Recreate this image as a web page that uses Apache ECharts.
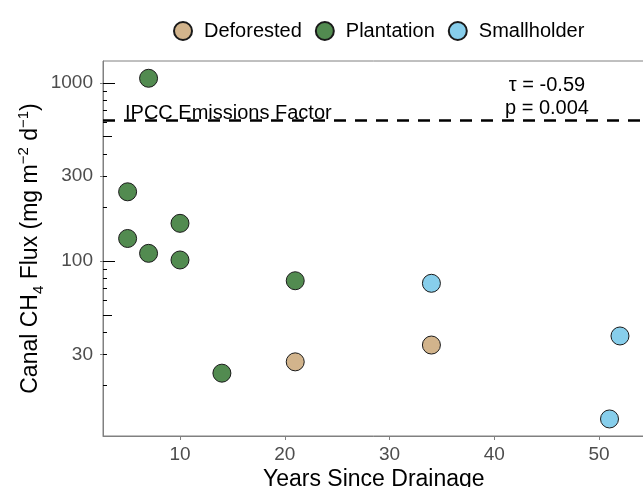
<!DOCTYPE html>
<html lang="en">
<head>
    <meta charset="UTF-8">
    <title>Canal CH4 flux</title>
    <script src="https://cdn.jsdelivr.net/npm/echarts@6/dist/echarts.min.js"></script>
    <style>
        html, body { margin: 0; padding: 0; background: #fff; }
    </style>
</head>
<body>
<div id="main" style="width: 643px;height:487px;"></div>
<script type="text/javascript">
    // values
    var categories = ['Deforested', 'Plantation', 'Smallholder'];
    var colors = ['#d2b48c', '#528b50', '#87ceeb'];

    var deforestedYears = [21, 34];
    var deforestedFlux = [27.2, 33.8];
    var plantationYears = [5, 5, 7, 7, 10, 10, 14, 21];
    var plantationFlux = [245, 134, 1063, 110.6, 163, 101.5, 23.5, 77.6];
    var smallholderYears = [34, 51, 52];
    var smallholderFlux = [75.1, 13.0, 38.0];

    var ipccFactor = 619;
    var xTicks = [10, 20, 30, 40, 50];
    var yTicks = [30, 100, 300, 1000];
    // log ticks drawn inside the panel
    var logLong = [100, 1000];
    var logMid = [50, 500];
    var logShort = [20, 30, 40, 60, 70, 80, 90, 200, 300, 400, 600, 700, 800, 900];

    var FONT = 'Liberation Sans';
    var yMin = 10.43, yMax = 1329;

    function pairs(xs, ys) {
        return xs.map(function (x, i) { return [x, ys[i]]; });
    }

    function logTickAxis(values, len) {
        return {
            type: 'log',
            logBase: 10,
            position: 'left',
            min: yMin,
            max: yMax,
            axisLine: {show: false},
            splitLine: {show: false},
            axisLabel: {show: false},
            axisTick: {
                show: true,
                inside: true,
                length: len,
                customValues: values,
                lineStyle: {color: '#000', width: 1}
            }
        };
    }

    var myChart = echarts.init(document.getElementById('main'));

    var seriesData = [
        pairs(deforestedYears, deforestedFlux),
        pairs(plantationYears, plantationFlux),
        pairs(smallholderYears, smallholderFlux)
    ];

    var series = categories.map(function (name, i) {
        return {
            name: name,
            type: 'scatter',
            symbol: 'circle',
            symbolSize: 18,
            data: seriesData[i],
            itemStyle: {color: colors[i], borderColor: '#1a1a1a', borderWidth: 1, opacity: 1},
            z: 5
        };
    });

    // IPCC line
    series.push({
        type: 'line',
        data: [],
        markLine: {
            silent: true,
            symbol: ['none', 'none'],
            lineStyle: {color: '#000', width: 2.6, type: [12, 9]},
            label: {
                show: true,
                position: 'insideStartTop',
                formatter: 'IPCC Emissions Factor',
                color: '#000',
                fontFamily: FONT,
                fontSize: 20,
                distance: [22, -3]
            },
            data: [{yAxis: ipccFactor}]
        }
    });

    myChart.setOption({
        animation: false,
        textStyle: {fontFamily: FONT},
        legend: {
            data: categories,
            top: 16,
            left: 168,
            icon: 'circle',
            itemWidth: 18,
            itemHeight: 18,
            itemGap: 13,
            textStyle: {fontSize: 20, color: '#000', padding: [0, 0, 0, 7]}
        },
        grid: {
            left: 103,
            top: 61,
            width: 541.6,
            height: 375,
            containLabel: false,
            outerBoundsMode: 'none',
            show: true,
            borderColor: '#808080',
            borderWidth: 1,
            backgroundColor: '#fff'
        },
        xAxis: {
            type: 'value',
            min: 2.65,
            max: 54.35,
            name: 'Years Since Drainage',
            nameLocation: 'middle',
            nameGap: 32,
            nameMoveOverlap: false,
            nameTextStyle: {fontSize: 23, color: '#000'},
            axisLine: {show: true, lineStyle: {color: '#808080', width: 1}},
            axisTick: {show: true, length: 4, customValues: xTicks, lineStyle: {color: '#808080'}},
            axisLabel: {customValues: xTicks, fontSize: 19, color: '#4d4d4d', margin: 9},
            splitLine: {show: false}
        },
        yAxis: [
            {
                type: 'log',
                logBase: 10,
                min: yMin,
                max: yMax,
                position: 'left',
                name: '{a|Canal CH}{sub|4}{a| Flux (mg m}{sup|\u22122}{a| d}{sup|\u22121}{a|)}',
                nameLocation: 'middle',
                nameRotate: 90,
                nameGap: 57,
                nameMoveOverlap: false,
                nameTextStyle: {
                    color: '#000',
                    rich: {
                        a: {fontSize: 23, color: '#000', lineHeight: 30, fontFamily: FONT},
                        sub: {fontSize: 15, color: '#000', lineHeight: 30, verticalAlign: 'bottom', fontFamily: FONT},
                        sup: {fontSize: 15, color: '#000', lineHeight: 30, verticalAlign: 'top', fontFamily: FONT}
                    }
                },
                axisLine: {show: true, lineStyle: {color: '#808080', width: 1}},
                axisTick: {show: true, length: 3, customValues: yTicks, lineStyle: {color: '#808080'}},
                axisLabel: {
                    customValues: yTicks,
                    fontSize: 19,
                    color: '#4d4d4d',
                    margin: 10,
                    formatter: function (v) { return String(Math.round(v)); }
                },
                splitLine: {show: false}
            },
            logTickAxis(logLong, 12),
            logTickAxis(logMid, 9),
            logTickAxis(logShort, 4)
        ],
        graphic: [
            {
                type: 'text',
                x: 547,
                y: 97,
                style: {
                    text: '\u03c4 = -0.59\np = 0.004',
                    font: '20px "Liberation Sans"',
                    fill: '#000',
                    align: 'center',
                    verticalAlign: 'middle',
                    lineHeight: 22.5
                }
            }
        ],
        series: series
    });
</script>
</body>
</html>
